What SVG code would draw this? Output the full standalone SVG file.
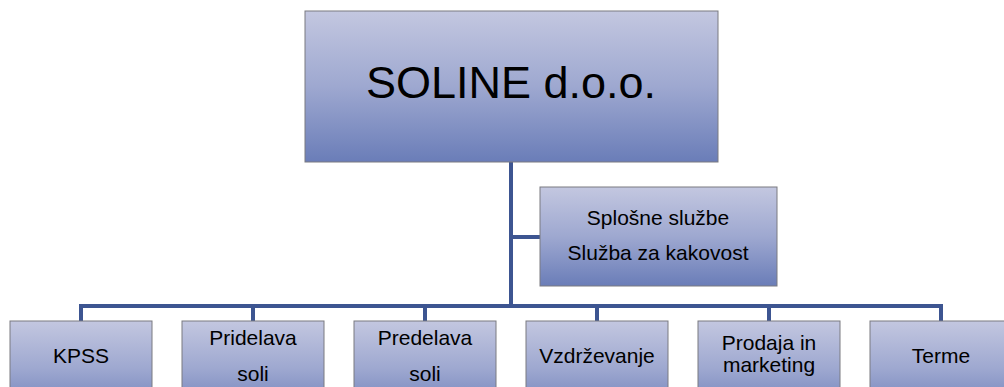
<svg xmlns="http://www.w3.org/2000/svg" width="1004" height="387" viewBox="0 0 1004 387">
  <defs>
    <linearGradient id="g" x1="0" y1="0" x2="0" y2="1">
      <stop offset="0" stop-color="#c3c7e0"/>
      <stop offset="0.5" stop-color="#9ea8d0"/>
      <stop offset="1" stop-color="#6a7db8"/>
    </linearGradient>
    <style>
      .box { fill: url(#g); stroke: #7a7a80; stroke-width: 1; }
      .t { font-family: "Liberation Sans", Arial, sans-serif; fill: #000; text-anchor: middle; }
      .s { font-size: 21px; }
      .con { fill: none; stroke: #3d5591; stroke-width: 4; }
    </style>
  </defs>
  <rect width="1004" height="387" fill="#ffffff"/>
  <g id="connectors">
    <path class="con" d="M511,162 V306"/>
    <path class="con" d="M511,237 H540"/>
    <path class="con" d="M81,321 V306 H941 V321"/>
    <path class="con" d="M253,306 V321 M425,306 V321 M597,306 V321 M769,306 V321"/>
  </g>
  <g id="soline">
    <rect class="box" x="305" y="11" width="413" height="151"/>
    <text class="t" x="511" y="98" font-size="45">SOLINE d.o.o.</text>
  </g>
  <g id="splosne">
    <rect class="box" x="540" y="187" width="237" height="99"/>
    <text class="t s" x="658" y="225">Splošne službe</text>
    <text class="t s" x="658" y="260">Služba za kakovost</text>
  </g>
  <g id="kpss">
    <rect class="box" x="10" y="321" width="142" height="95"/>
    <text class="t s" x="81" y="363">KPSS</text>
  </g>
  <g id="pridelava">
    <rect class="box" x="182" y="321" width="142" height="95"/>
    <text class="t s" x="253" y="345">Pridelava</text>
    <text class="t s" x="253" y="381">soli</text>
  </g>
  <g id="predelava">
    <rect class="box" x="354" y="321" width="142" height="95"/>
    <text class="t s" x="425" y="345">Predelava</text>
    <text class="t s" x="425" y="381">soli</text>
  </g>
  <g id="vzdrzevanje">
    <rect class="box" x="526" y="321" width="142" height="95"/>
    <text class="t s" x="597" y="363">Vzdrževanje</text>
  </g>
  <g id="prodaja">
    <rect class="box" x="698" y="321" width="142" height="95"/>
    <text class="t s" x="769" y="350">Prodaja in</text>
    <text class="t s" x="769" y="372">marketing</text>
  </g>
  <g id="terme">
    <rect class="box" x="870" y="321" width="142" height="95"/>
    <text class="t s" x="941" y="363">Terme</text>
  </g>
</svg>
